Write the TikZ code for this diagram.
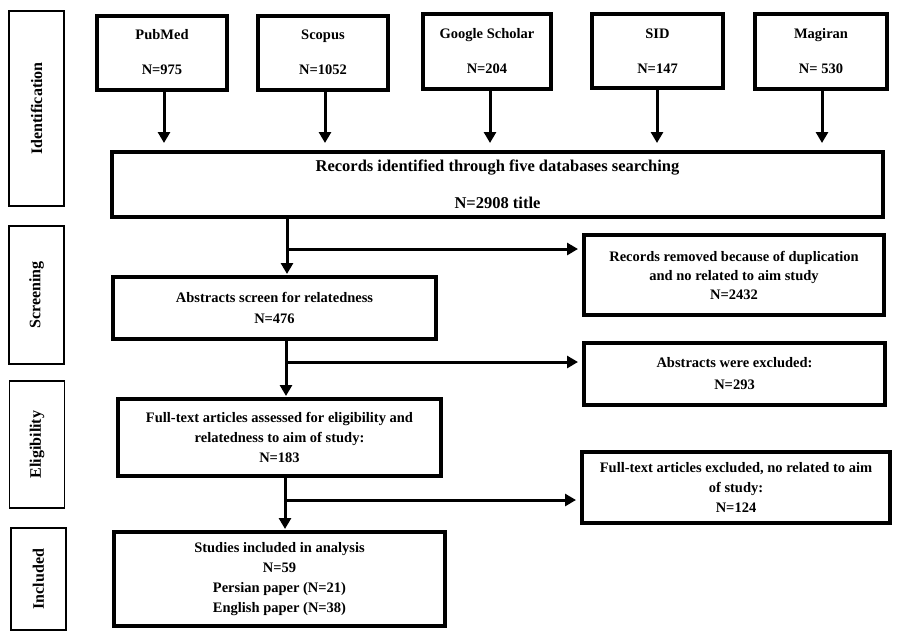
\documentclass[tikz,border=0pt]{standalone}
\usepackage{fontspec}
\setmainfont{Liberation Serif}
\usetikzlibrary{arrows.meta,calc}
\begin{document}
\begin{tikzpicture}[x=1pt,y=-1pt,
 box/.style={draw,line width=4pt,inner sep=0pt,align=center,font=\bfseries\fontsize{14.5}{20}\selectfont},
 side/.style={draw,line width=1.8pt,inner sep=0pt,rotate=90,minimum height=55pt,font=\bfseries\fontsize{16}{18}\selectfont},
 arr/.style={line width=3pt,-{Triangle[length=11pt,width=12pt]}},
 ln/.style={line width=3pt}]
\useasboundingbox[fill=white] (0,0) rectangle (901,638);
% side labels
\node[side,minimum width=195pt] (sid1) at (36.5,108.5) {Identification};
\node[side,minimum width=138pt] (sid2) at (36.5,295) {Screening};
\node[side,minimum width=127pt] (sid3) at (37,444.5) {Eligibility};
\node[side,minimum width=102pt] (sid4) at (38.5,579) {Included};
% databases
\node[box,minimum width=130pt,minimum height=74pt] (pub) at (162,52.5) {PubMed\\[15pt]N=975};
\node[box,minimum width=130pt,minimum height=74pt] (sco) at (323,52.5) {Scopus\\[15pt]N=1052};
\node[box,minimum width=128pt,minimum height=75pt] (goo) at (487,51.5) {Google Scholar\\[15pt]N=204};
\node[box,minimum width=131pt,minimum height=74pt] (sdb) at (657.5,51) {SID\\[15pt]N=147};
\node[box,minimum width=132pt,minimum height=75pt] (mag) at (821,51.5) {Magiran\\[15pt]N= 530};
% main flow
\node[box,minimum width=771pt,minimum height=65pt,font=\bfseries\fontsize{16.5}{20}\selectfont] (rec) at (497.5,184.5) {Records identified through five databases searching\\[17pt]N=2908 title};
\node[box,minimum width=300pt,minimum height=80pt,font=\bfseries\fontsize{14.5}{19}\selectfont] (rem) at (734,275) {Records removed because of duplication\\and no related to aim study\\N=2432};
\node[box,minimum width=323pt,minimum height=62pt,font=\bfseries\fontsize{14.5}{21}\selectfont] (abs) at (274.5,308) {Abstracts screen for relatedness\\N=476};
\node[box,minimum width=301pt,minimum height=62pt,font=\bfseries\fontsize{14.5}{22}\selectfont] (absx) at (734.5,374) {Abstracts were excluded:\\N=293};
\node[box,minimum width=323pt,minimum height=77pt] (full) at (279.5,437.5) {Full-text articles assessed for eligibility and\\relatedness to aim of study:\\N=183};
\node[box,minimum width=308pt,minimum height=71pt] (fullx) at (736,487.5) {Full-text articles excluded, no related to aim\\of study:\\N=124};
\node[box,minimum width=331pt,minimum height=94pt] (stud) at (279.5,579) {Studies included in analysis\\N=59\\Persian paper (N=21)\\English paper (N=38)};
% arrows from databases
\foreach \n/\xx in {pub/164,sco/325,goo/490,sdb/657,mag/822}{
  \draw[arr,shorten >=7pt] (\n.south -| \xx,0) -- (rec.north -| \xx,0);
}
% branch junctions
\coordinate (j1) at (287,249);
\coordinate (j2) at (286,362);
\coordinate (j3) at (285,500);
\draw[arr,shorten >=1pt] (j1 |- rec.south) -- (j1 |- abs.north);
\draw[arr,shorten >=4pt] (j1) -- (j1 -| rem.west);
\draw[arr,shorten >=1pt] (j2 |- abs.south) -- (j2 |- full.north);
\draw[arr,shorten >=4pt] (j2) -- (j2 -| absx.west);
\draw[arr,shorten >=1pt] (j3 |- full.south) -- (j3 |- stud.north);
\draw[arr,shorten >=4pt] (j3) -- (j3 -| fullx.west);
\end{tikzpicture}
\end{document}
